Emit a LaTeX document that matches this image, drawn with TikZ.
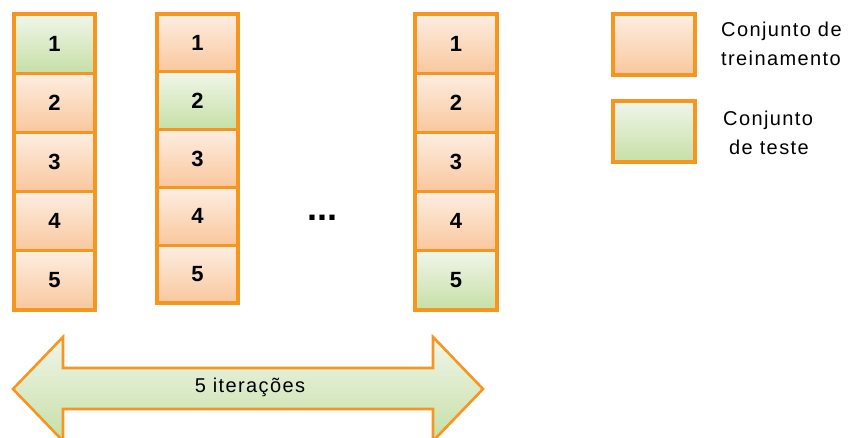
\documentclass[tikz,border=0pt]{standalone}
\usepackage{fontspec}
\setmainfont{Liberation Sans}
\newfontfamily\widesans[LetterSpace=7]{Liberation Sans}
\begin{document}
\definecolor{frame}{HTML}{F7961E}
\definecolor{peachtop}{HTML}{FDEEE2}
\definecolor{peachbot}{HTML}{F9C79D}
\definecolor{greentop}{HTML}{F0F6EA}
\definecolor{greenbot}{HTML}{C6DFA6}
\begin{tikzpicture}[x=1pt,y=-1pt,
  fold/.style={draw=frame, line width=3.2pt, inner sep=0pt,
    font=\fontsize{22}{22}\selectfont\bfseries},
  train/.style={fold, top color=peachtop, bottom color=peachbot},
  test/.style={fold, top color=greentop, bottom color=greenbot},
  legendtext/.style={anchor=west, align=left, inner sep=0pt,
    font=\widesans\fontsize{20}{29}\selectfont}]
\useasboundingbox (0,0) rectangle (851,438);

% first split: fold 1 held out
\foreach \i/\s in {1/test,2/train,3/train,4/train,5/train}{
  \node[\s, minimum width=81pt, minimum height=59.2pt]
    (a\i) at (54.5,{14+59.2*(\i-0.5)}) {\i};
}
% second split: fold 2 held out
\foreach \i/\s in {1/train,2/test,3/train,4/train,5/train}{
  \node[\s, minimum width=81pt, minimum height=57.8pt]
    (b\i) at (197.5,{14+57.8*(\i-0.5)}) {\i};
}
% last split: fold 5 held out
\foreach \i/\s in {1/train,2/train,3/train,4/train,5/test}{
  \node[\s, minimum width=82pt, minimum height=59.2pt]
    (c\i) at (456,{14+59.2*(\i-0.5)}) {\i};
}
\node[font=\fontsize{36}{36}\selectfont\bfseries, inner sep=0pt]
  (dots) at (322,218) {...};

% legend
\node[train, minimum width=82pt, minimum height=61pt] (ltrain) at (654,44.5) {};
\node[test, minimum width=82pt, minimum height=61pt] (ltest) at (654,131.5) {};
\node[legendtext] (ltraintxt) at (721,44) {Conjunto de\\treinamento};
\node[legendtext] (ltesttxt) at (723,133) {Conjunto\\\hspace*{6pt}de teste};

% iterations arrow
\path[draw=frame, line width=2.6pt, line join=miter,
      top color=greentop, bottom color=greenbot]
  (13,389) -- (63,337) -- (63,368) -- (433,368) -- (433,337) -- (483,389)
  -- (433,441) -- (433,409) -- (63,409) -- (63,441) -- cycle;
\node[font=\widesans\fontsize{20}{22}\selectfont] (iter) at (250,387) {5 iterações};
\end{tikzpicture}
\end{document}
